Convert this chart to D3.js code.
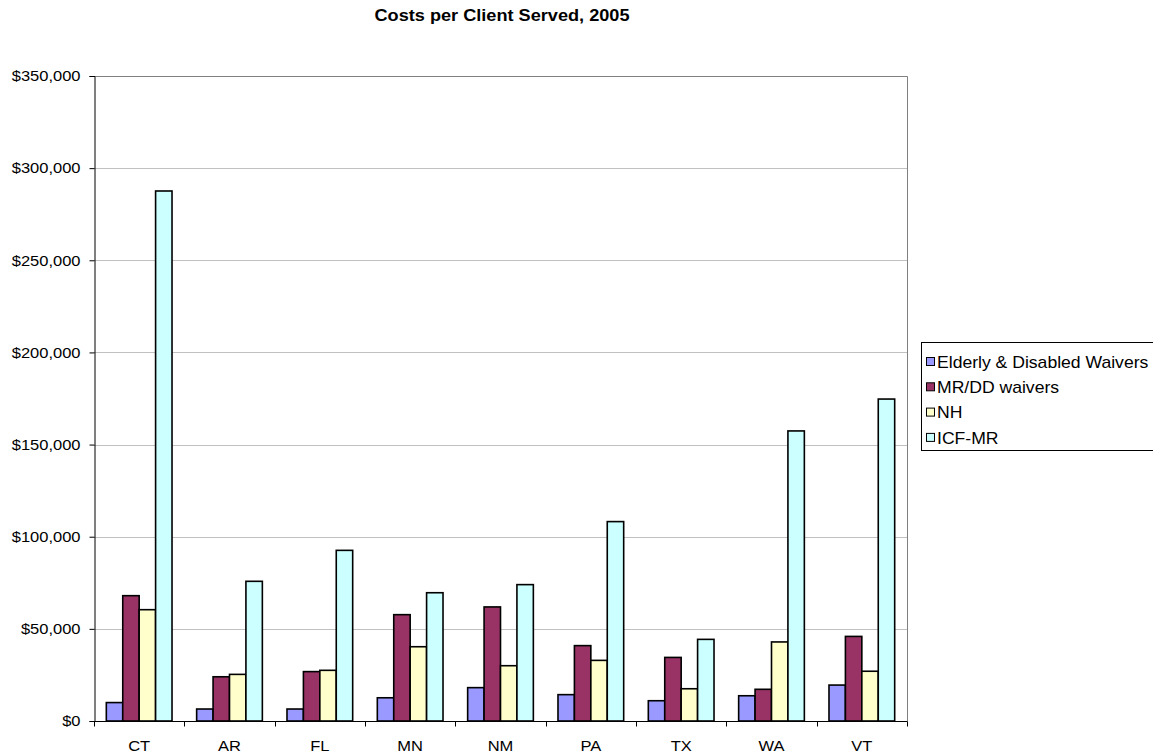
<!DOCTYPE html>
<html>
<head>
<meta charset="utf-8">
<script src="https://cdn.jsdelivr.net/npm/d3@7"></script>
<style>
  html, body { margin: 0; padding: 0; background: #fff; }
  svg { display: block; font-family: Arial, "Liberation Sans", sans-serif; }
</style>
</head>
<body>
<svg id="chart" width="1153" height="755"></svg>
<script>
// Per-client costs by state and service type, 2005
const states = ["CT", "AR", "FL", "MN", "NM", "PA", "TX", "WA", "VT"];
const seriesNames = ["Elderly & Disabled Waivers", "MR/DD waivers", "NH", "ICF-MR"];
const elderlyDisabled = [10000, 6500, 6500, 12600, 18100, 14300, 11000, 13700, 19500];
const mrddWaivers     = [68000, 24000, 26800, 57700, 61900, 40900, 34500, 17200, 45900];
const nursingHome     = [60400, 25300, 27500, 40300, 30000, 32900, 17500, 42900, 27000];
const icfMr           = [287600, 75800, 92600, 69600, 74000, 108200, 44300, 157400, 174700];
const seriesColors = ["#9999FF", "#993366", "#FFFFCC", "#CCFFFF"];
const yTicks = [0, 50000, 100000, 150000, 200000, 250000, 300000, 350000];

const seriesValues = [elderlyDisabled, mrddWaivers, nursingHome, icfMr];

// text in this chart is rendered slightly wide
const STRETCH = 1.1;
const FONT = "Arial, 'Liberation Sans', sans-serif";

const svg = d3.select("#chart");
const plot = { left: 94, right: 907, top: 76, bottom: 721 };

const x = d3.scaleBand().domain(states).range([plot.left, plot.right]).paddingInner(0).paddingOuter(0);
// each group holds four bars; gap between groups equals 1.5 bar widths
const barW = x.bandwidth() / 5.5;
const xInner = d3.scaleBand().domain(d3.range(seriesNames.length))
  .range([barW * 0.75, barW * 0.75 + barW * 4]);
const y = d3.scaleLinear().domain([0, 350000]).range([plot.bottom, plot.top]);

function wideText(sel, tx, ty) {
  return sel.attr("transform", `translate(${tx},${ty}) scale(${STRETCH},1)`);
}

// title
wideText(svg.append("text"), 502, 21)
  .attr("text-anchor", "middle")
  .attr("font-size", 16.5).attr("font-weight", "bold")
  .text("Costs per Client Served, 2005");

// gridlines
svg.append("g").selectAll("line")
  .data(yTicks.filter(d => d > 0 && d < 350000))
  .join("line")
  .attr("x1", plot.left).attr("x2", plot.right)
  .attr("y1", d => Math.round(y(d)) + 0.5).attr("y2", d => Math.round(y(d)) + 0.5)
  .attr("stroke", "#c0c0c0").attr("stroke-width", 1);

// plot frame (top and right)
svg.append("path")
  .attr("d", `M${plot.left},${plot.top + 0.5}H${plot.right + 0.5}V${plot.bottom}`)
  .attr("fill", "none").attr("stroke", "#808080").attr("stroke-width", 1);

// bars
const groups = svg.append("g").selectAll("g")
  .data(states)
  .join("g")
  .attr("transform", d => `translate(${x(d)},0)`);

groups.selectAll("rect")
  .data((d, i) => seriesValues.map((vals, s) => ({ s, v: vals[i] })))
  .join("rect")
  .attr("x", d => xInner(d.s))
  .attr("width", xInner.bandwidth())
  .attr("y", d => y(d.v))
  .attr("height", d => y(0) - y(d.v))
  .attr("fill", d => seriesColors[d.s])
  .attr("stroke", "#000").attr("stroke-width", 1.6);

// y axis
const yAxis = d3.axisLeft(y)
  .tickValues(yTicks)
  .tickFormat(d => "$" + d3.format(",")(d))
  .tickSize(5).tickPadding(9);
const gy = svg.append("g").attr("transform", `translate(${plot.left + 0.5},0)`).call(yAxis);
gy.select(".domain").attr("stroke", "#000");
gy.selectAll(".tick line").attr("stroke", "#000");
gy.selectAll(".tick text")
  .attr("x", null)
  .attr("transform", `translate(-14,0) scale(${STRETCH},1)`)
  .attr("font-size", 15).attr("font-family", FONT).attr("fill", "#000");

// x axis with ticks at category boundaries
const gx = svg.append("g").attr("transform", `translate(0,${plot.bottom + 0.5})`);
gx.append("line").attr("x1", plot.left).attr("x2", plot.right + 0.5).attr("stroke", "#000");
gx.selectAll("line.tk")
  .data(states.concat(["_end"]))
  .join("line").attr("class", "tk")
  .attr("x1", (d, i) => Math.round(i < states.length ? x(d) : plot.right) + 0.5)
  .attr("x2", (d, i) => Math.round(i < states.length ? x(d) : plot.right) + 0.5)
  .attr("y1", 0).attr("y2", 5).attr("stroke", "#000");
gx.selectAll("text")
  .data(states)
  .join("text")
  .attr("transform", d => `translate(${x(d) + x.bandwidth() / 2},29.5) scale(${STRETCH},1)`)
  .attr("text-anchor", "middle")
  .attr("font-size", 15)
  .text(d => d);

// legend
const legend = svg.append("g").attr("transform", "translate(921,342)");
legend.append("rect")
  .attr("x", 0.5).attr("y", 0.5).attr("width", 260).attr("height", 108)
  .attr("fill", "#fff").attr("stroke", "#000");
const items = legend.selectAll("g.item")
  .data(seriesNames)
  .join("g").attr("class", "item")
  .attr("transform", (d, i) => `translate(5,${20 + i * 25.3})`);
items.append("rect")
  .attr("x", 0.5).attr("y", -4.5).attr("width", 8).attr("height", 8)
  .attr("fill", (d, i) => seriesColors[i]).attr("stroke", "#000");
items.append("text")
  .attr("transform", `translate(11,5.7) scale(${STRETCH},1)`)
  .attr("font-size", 16)
  .text(d => d);
</script>
</body>
</html>
